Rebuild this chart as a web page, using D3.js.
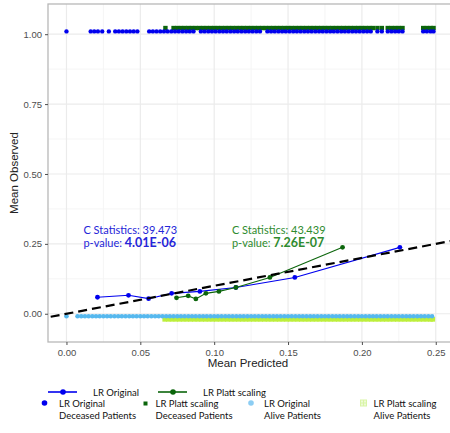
<!DOCTYPE html>
<html>
<head>
<meta charset="utf-8">
<script src="https://cdnjs.cloudflare.com/ajax/libs/d3/7.8.5/d3.min.js"></script>
<style>
  body { margin: 0; background: #fff; }
  .axis text { font-family: "Liberation Sans", Arial, sans-serif; font-size: 9.5px; fill: #4d4d4d; }
  .axis line { stroke: #4d4d4d; }
  .axis path { display: none; }
  .note, .legend text { font-family: Lato, "Open Sans", sans-serif; }
</style>
</head>
<body>
<svg width="450" height="433"></svg>
<script>
// calibration curves (mean predicted, mean observed)
var origPred = [0.021, 0.042, 0.0556, 0.0712, 0.0903, 0.1147, 0.1546, 0.2257];
var origObs  = [0.059, 0.066, 0.054, 0.073, 0.080, 0.094, 0.130, 0.2375];
var plattPred = [0.0745, 0.0824, 0.0876, 0.0944, 0.1032, 0.1147, 0.1377, 0.1869];
var plattObs  = [0.057, 0.064, 0.053, 0.073, 0.080, 0.094, 0.130, 0.2375];

// predicted probabilities of individual patients (rug strips)
var origDeceased = [0, 0.0164, 0.0188, 0.0213, 0.0242, 0.0287,
  0.033, 0.0355, 0.038, 0.0405, 0.043, 0.0455, 0.048,
  0.056, 0.0585, 0.061, 0.0635, 0.066, 0.0685, 0.071, 0.0735, 0.076, 0.0785,
  0.081, 0.0835, 0.086, 0.091, 0.0935, 0.096, 0.0985, 0.101, 0.1035, 0.106,
  0.1085, 0.111, 0.1135, 0.116, 0.1185, 0.121, 0.1235, 0.126, 0.1285, 0.131,
  0.136, 0.1385, 0.141, 0.1435, 0.146, 0.1485, 0.151, 0.1535, 0.156, 0.1585,
  0.161, 0.1635, 0.166, 0.1685, 0.171, 0.1735, 0.176, 0.1785, 0.181, 0.1835,
  0.186, 0.1885, 0.191, 0.1935, 0.196, 0.1985, 0.201, 0.2035, 0.206,
  0.2105, 0.2135, 0.2175, 0.22, 0.2225, 0.225, 0.2275, 0.2415, 0.244, 0.2465, 0.2485];
var plattDeceased = [0.067, 0.0725, 0.075, 0.0775, 0.08, 0.0825, 0.085, 0.0875,
  0.09, 0.0925, 0.095, 0.0975, 0.1, 0.1025, 0.105, 0.1075, 0.11, 0.1125, 0.115,
  0.1175, 0.12, 0.1225, 0.125, 0.1275, 0.13, 0.1325, 0.135, 0.1375, 0.14, 0.1425,
  0.145, 0.1475, 0.15, 0.1525, 0.155, 0.1575, 0.16, 0.1625, 0.165, 0.1675, 0.17,
  0.1725, 0.175, 0.1775, 0.18, 0.1825, 0.185, 0.1875, 0.19, 0.1925, 0.195, 0.1975,
  0.2, 0.2025, 0.205, 0.2075, 0.2105, 0.2135, 0.2175, 0.22, 0.2225, 0.225, 0.2275,
  0.2415, 0.244, 0.2465, 0.2485];
var origAlive = [0, 0.0075, 0.01, 0.0125, 0.015, 0.0175, 0.02, 0.0225, 0.025, 0.0275,
  0.03, 0.0325, 0.035, 0.0375, 0.04, 0.0425, 0.045, 0.0475, 0.05, 0.0525, 0.055,
  0.0575, 0.06, 0.0625, 0.065, 0.0675, 0.07, 0.0725, 0.075, 0.0775, 0.08, 0.0825,
  0.085, 0.0875, 0.09, 0.0925, 0.095, 0.0975, 0.1, 0.1025, 0.105, 0.1075, 0.11,
  0.1125, 0.115, 0.1175, 0.12, 0.1225, 0.125, 0.1275, 0.13, 0.1325, 0.135, 0.1375,
  0.14, 0.1425, 0.145, 0.1475, 0.15, 0.1525, 0.155, 0.1575, 0.16, 0.1625, 0.165,
  0.1675, 0.17, 0.1725, 0.175, 0.1775, 0.18, 0.1825, 0.185, 0.1875, 0.19, 0.1925,
  0.195, 0.1975, 0.2, 0.2025, 0.205, 0.2075, 0.21, 0.2125, 0.215, 0.2175, 0.22,
  0.2225, 0.225, 0.2275, 0.23, 0.2325, 0.235, 0.2375, 0.24, 0.2425, 0.245, 0.2475];
var plattAlive = [0.0665, 0.069, 0.0715, 0.074, 0.0765, 0.079, 0.0815, 0.084, 0.0865,
  0.089, 0.0915, 0.094, 0.0965, 0.099, 0.1015, 0.104, 0.1065, 0.109, 0.1115, 0.114,
  0.1165, 0.119, 0.1215, 0.124, 0.1265, 0.129, 0.1315, 0.134, 0.1365, 0.139, 0.1415,
  0.144, 0.1465, 0.149, 0.1515, 0.154, 0.1565, 0.159, 0.1615, 0.164, 0.1665, 0.169,
  0.1715, 0.174, 0.1765, 0.179, 0.1815, 0.184, 0.1865, 0.189, 0.1915, 0.194, 0.1965,
  0.199, 0.2015, 0.204, 0.2065, 0.209, 0.2115, 0.214, 0.2165, 0.219, 0.2215, 0.224,
  0.2265, 0.229, 0.2315, 0.234, 0.2365, 0.239, 0.2415, 0.244, 0.2465, 0.248];

// strip heights (observed outcome, slightly jittered off 0 / 1)
var stripY = {origDeceased: 1.010, plattDeceased: 1.022, origAlive: -0.009, plattAlive: -0.020};

var xTicks = [0, 0.05, 0.10, 0.15, 0.20, 0.25];
var yTicks = [0, 0.25, 0.50, 0.75, 1.00];
var xMinor = [0.025, 0.075, 0.125, 0.175, 0.225];
var yMinor = [0.125, 0.375, 0.625, 0.875];

var stats = [
  {label: "C Statistics: 39.473", p: "4.01E-06", at: [0.0115, 0.285], color: "#2525d8"},
  {label: "C Statistics: 43.439", p: "7.26E-07", at: [0.112, 0.285], color: "#2e8b2e"}
];

var blue = "#0000ee", green = "#0b650b", lightBlue = "#56b8ee", lime = "#bdef3c";

var svg = d3.select("svg");
var pLeft = 48, pRight = 452, pTop = 4, pBottom = 342;

var x = d3.scaleLinear().domain([-0.0125, 0.261]).range([pLeft, pRight]);
var y = d3.scaleLinear().domain([-0.101, 1.108]).range([pBottom, pTop]);

var defs = svg.append("defs");
defs.append("clipPath").attr("id", "panel")
  .append("rect").attr("x", pLeft).attr("y", pTop)
  .attr("width", pRight - pLeft).attr("height", pBottom - pTop);

// grid
var grid = svg.append("g");
grid.selectAll(".xm").data(xMinor).enter().append("line")
  .attr("x1", x).attr("x2", x).attr("y1", pTop).attr("y2", pBottom)
  .attr("stroke", "#f5f5f5").attr("stroke-width", 1);
grid.selectAll(".ym").data(yMinor).enter().append("line")
  .attr("y1", y).attr("y2", y).attr("x1", pLeft).attr("x2", pRight)
  .attr("stroke", "#f5f5f5").attr("stroke-width", 1);
grid.selectAll(".xg").data(xTicks).enter().append("line")
  .attr("x1", x).attr("x2", x).attr("y1", pTop).attr("y2", pBottom)
  .attr("stroke", "#ebebeb").attr("stroke-width", 1.2);
grid.selectAll(".yg").data(yTicks).enter().append("line")
  .attr("y1", y).attr("y2", y).attr("x1", pLeft).attr("x2", pRight)
  .attr("stroke", "#ebebeb").attr("stroke-width", 1.2);

// panel border
svg.append("rect").attr("x", pLeft).attr("y", pTop)
  .attr("width", pRight - pLeft).attr("height", pBottom - pTop)
  .attr("fill", "none").attr("stroke", "#b8b8b8").attr("stroke-width", 1.3);

// axes
svg.append("g").attr("class", "axis")
  .attr("transform", "translate(" + pLeft + ",0)")
  .call(d3.axisLeft(y).tickValues(yTicks).tickSize(3).tickPadding(3).tickFormat(d3.format(".2f")));
svg.append("g").attr("class", "axis")
  .attr("transform", "translate(0," + pBottom + ")")
  .call(d3.axisBottom(x).tickValues(xTicks).tickSize(3).tickPadding(4).tickFormat(d3.format(".2f")));

svg.append("text").attr("x", (pLeft + 448) / 2).attr("y", 367)
  .attr("text-anchor", "middle")
  .style("font-family", "Liberation Sans, Arial, sans-serif").style("font-size", "11.5px").style("fill", "#222")
  .text("Mean Predicted");
svg.append("text").attr("transform", "translate(18," + ((pTop + pBottom) / 2) + ") rotate(-90)")
  .attr("text-anchor", "middle")
  .style("font-family", "Liberation Sans, Arial, sans-serif").style("font-size", "11.5px").style("fill", "#222")
  .text("Mean Observed");

var plot = svg.append("g").attr("clip-path", "url(#panel)");

// rug strips
plot.selectAll(".pa").data(plattAlive).enter().append("rect")
  .attr("x", function(d) { return x(d) - 2.3; })
  .attr("y", y(stripY.plattAlive) - 2.3)
  .attr("width", 4.6).attr("height", 4.6).attr("fill", lime);
plot.selectAll(".oa").data(origAlive).enter().append("circle")
  .attr("cx", x).attr("cy", y(stripY.origAlive)).attr("r", 2.3).attr("fill", lightBlue);
plot.selectAll(".pd").data(plattDeceased).enter().append("rect")
  .attr("x", function(d) { return x(d) - 2.2; })
  .attr("y", y(stripY.plattDeceased) - 2.2)
  .attr("width", 4.4).attr("height", 4.4).attr("fill", green);
plot.selectAll(".od").data(origDeceased).enter().append("circle")
  .attr("cx", x).attr("cy", y(stripY.origDeceased)).attr("r", 2.2).attr("fill", blue);

// calibration curves
function curve(px, py, color) {
  var pts = px.map(function(d, i) { return [d, py[i]]; });
  plot.append("path")
    .attr("d", d3.line().x(function(d) { return x(d[0]); }).y(function(d) { return y(d[1]); })(pts))
    .attr("fill", "none").attr("stroke", color).attr("stroke-width", 1.1);
  plot.selectAll(null).data(pts).enter().append("circle")
    .attr("cx", function(d) { return x(d[0]); })
    .attr("cy", function(d) { return y(d[1]); })
    .attr("r", 2.4).attr("fill", color);
}
curve(origPred, origObs, blue);
curve(plattPred, plattObs, green);

// perfect calibration
plot.append("line")
  .attr("x1", x(-0.02)).attr("y1", y(-0.02))
  .attr("x2", x(0.3)).attr("y2", y(0.3))
  .attr("stroke", "#000").attr("stroke-width", 2.2).attr("stroke-dasharray", "9,5");

// statistics annotations
stats.forEach(function(s) {
  var t = svg.append("text").attr("class", "note")
    .attr("x", x(s.at[0])).attr("y", y(s.at[1]))
    .style("fill", s.color).style("font-size", "11px");
  t.append("tspan").text(s.label);
  var t2 = svg.append("text").attr("class", "note")
    .attr("x", x(s.at[0])).attr("y", y(s.at[1]) + 12.5)
    .style("fill", s.color).style("font-size", "11px");
  t2.append("tspan").text("p-value: ");
  t2.append("tspan").style("font-size", "12.5px").style("font-weight", "bold").text(s.p);
});

// legend
var lg = svg.append("g").attr("class", "legend").style("font-size", "9.5px");
var lines = [
  {name: "LR Original", color: blue, x: 48, tx: 93},
  {name: "LR Platt scaling", color: green, x: 158, tx: 203}
];
lines.forEach(function(l) {
  lg.append("line").attr("x1", l.x).attr("x2", l.x + 29).attr("y1", 392).attr("y2", 392)
    .attr("stroke", l.color).attr("stroke-width", 1.6);
  lg.append("circle").attr("cx", l.x + 15).attr("cy", 392).attr("r", 2.8).attr("fill", l.color);
  lg.append("text").attr("x", l.tx).attr("y", 395.5).attr("fill", "#111").text(l.name);
});
var keys = [
  {l1: "LR Original", l2: "Deceased Patients", color: blue, shape: "circle", x: 44.5, tx: 59},
  {l1: "LR Platt scaling", l2: "Deceased Patients", color: green, shape: "square", x: 145.5, tx: 155.5},
  {l1: "LR Original", l2: "Alive Patients", color: "#8ccdf3", shape: "circle", x: 251, tx: 264},
  {l1: "LR Platt scaling", l2: "Alive Patients", color: "#d9f5a6", shape: "squarePlus", x: 363.5, tx: 373.5}
];
keys.forEach(function(k) {
  if (k.shape === "circle") {
    lg.append("circle").attr("cx", k.x).attr("cy", 403).attr("r", 2.8).attr("fill", k.color);
  } else if (k.shape === "square") {
    lg.append("rect").attr("x", k.x - 2).attr("y", 401.5).attr("width", 4).attr("height", 4).attr("fill", k.color);
  } else {
    lg.append("rect").attr("x", k.x - 3).attr("y", 400).attr("width", 6).attr("height", 6)
      .attr("fill", "#eefad8").attr("stroke", k.color).attr("stroke-width", 1);
    lg.append("line").attr("x1", k.x).attr("x2", k.x).attr("y1", 400).attr("y2", 406).attr("stroke", k.color);
    lg.append("line").attr("x1", k.x - 3).attr("x2", k.x + 3).attr("y1", 403).attr("y2", 403).attr("stroke", k.color);
  }
  lg.append("text").attr("x", k.tx).attr("y", 406.5).attr("fill", "#111").text(k.l1);
  lg.append("text").attr("x", k.tx).attr("y", 418.5).attr("fill", "#111").text(k.l2);
});
</script>
</body>
</html>
